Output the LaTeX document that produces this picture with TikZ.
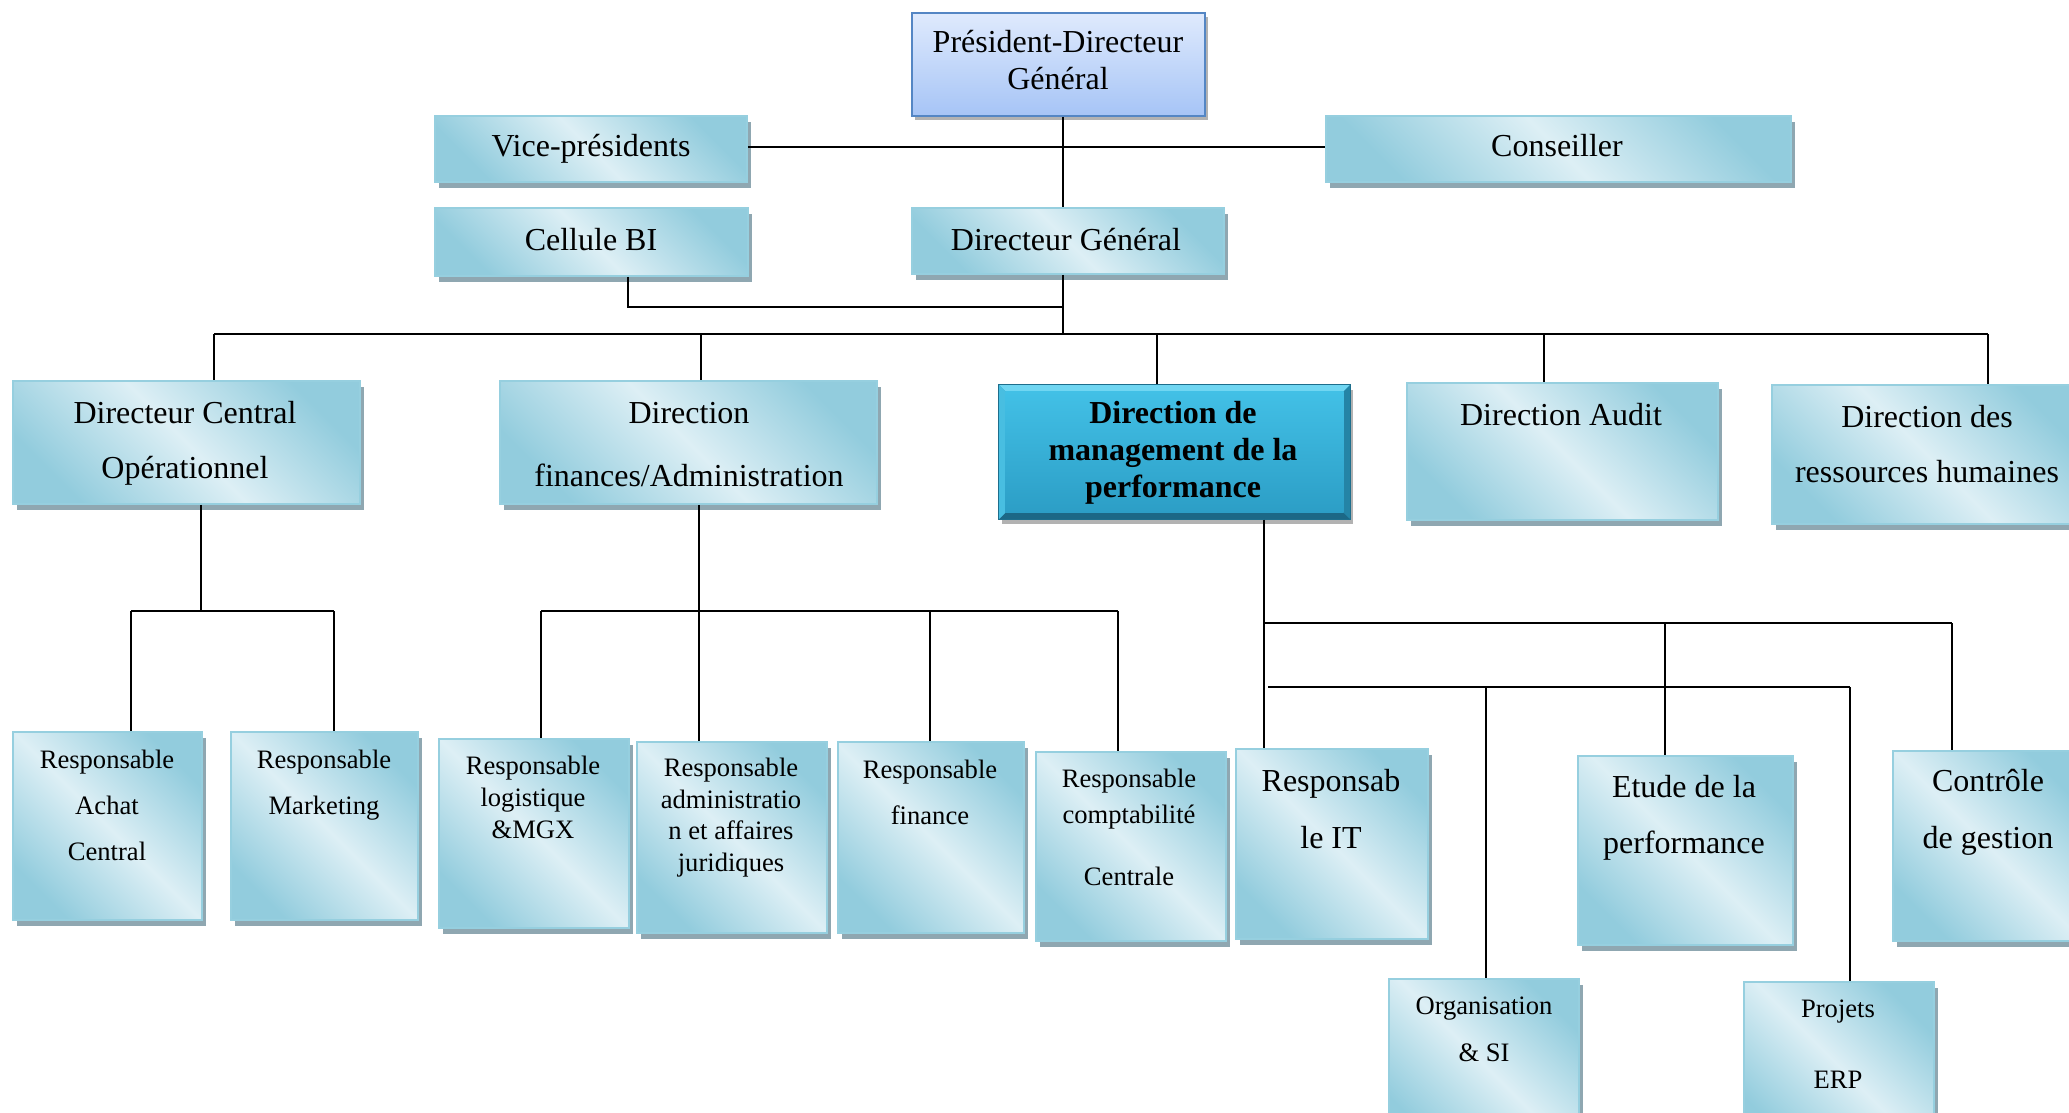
\documentclass[tikz,border=0pt]{standalone}
\usepackage{fontspec}
\setmainfont{Liberation Serif}
\usetikzlibrary{fit,shadows,calc}

\definecolor{tealdark}{RGB}{146,204,221}
\definecolor{teallight}{RGB}{221,239,245}
\definecolor{tealedge}{RGB}{150,207,223}
\definecolor{shadowc}{RGB}{143,167,177}
\definecolor{pdgtop}{RGB}{223,234,253}
\definecolor{pdgbot}{RGB}{166,196,246}
\definecolor{pdgedge}{RGB}{84,134,196}
\definecolor{dmptop}{RGB}{66,192,230}
\definecolor{dmpbot}{RGB}{44,158,198}
\definecolor{dmpedge}{RGB}{30,110,140}
\definecolor{bevtop}{RGB}{112,214,242}
\definecolor{bevleft}{RGB}{72,190,225}
\definecolor{bevright}{RGB}{36,132,166}
\definecolor{bevbot}{RGB}{28,104,134}

\tikzset{
  % light band from top left to bottom right, darker top-right and bottom-left corners
  box/.style={rectangle, inner sep=0pt, draw=tealedge, line width=0.8pt,
    top color=tealdark, bottom color=tealdark, middle color=teallight,
    shading angle=-45,
    drop shadow={shadow xshift=2pt, shadow yshift=-3pt, fill=shadowc, opacity=1}},
  pdgbox/.style={rectangle, inner sep=0pt, draw=pdgedge, line width=1pt,
    top color=pdgtop, bottom color=pdgbot,
    drop shadow={shadow xshift=1.5pt, shadow yshift=-2pt, fill=black, opacity=0.3}},
  dmpbox/.style={rectangle, inner sep=0pt, draw=dmpedge, line width=0.6pt,
    fill=dmpbot,
    drop shadow={shadow xshift=1.5pt, shadow yshift=-2.5pt, fill=black, opacity=0.3}},
  % labels are anchored at the baseline of their last line
  lbl/.style={align=center, inner sep=0pt, anchor=base, font=\fontsize{16}{18.5}\selectfont},
  sml/.style={align=center, inner sep=0pt, anchor=base, font=\fontsize{13.3}{23}\selectfont},
  conn/.style={draw=black, line width=1pt},
}

\begin{document}
\begin{tikzpicture}[x=0.5pt, y=-0.5pt]
\useasboundingbox (0,0) rectangle (2069,1113);
\fill[white] (0,0) rectangle (2069,1113);
\clip (0,0) rectangle (2069,1113);

% ---------- boxes ----------
\node[pdgbox, fit={(912,13) (1205,116)}] (pdg) {};
\node[box, fit={(435,116) (747,182)}] (vp) {};
\node[box, fit={(1326,116) (1791,182)}] (cons) {};
\node[box, fit={(435,208) (748,276)}] (bi) {};
\node[box, fit={(912,208) (1224,274)}] (dg) {};

\node[box, fit={(13,381) (360,504)}] (dco) {};
\node[box, fit={(500,381) (877,504)}] (df) {};
\node[dmpbox, fit={(999,385) (1350,519)}] (dmp) {};
\node[box, fit={(1407,383) (1718,520)}] (audit) {};
\node[box, fit={(1772,385) (2082,524)}] (drh) {};

\node[box, fit={(13,732) (202,920)}] (achat) {};
\node[box, fit={(231,732) (418,920)}] (mkt) {};
\node[box, fit={(439,739) (629,928)}] (logi) {};
\node[box, fit={(637,742) (827,933)}] (admin) {};
\node[box, fit={(838,742) (1024,933)}] (fin) {};
\node[box, fit={(1036,752) (1226,941)}] (compta) {};
\node[box, fit={(1236,749) (1428,939)}] (it) {};
\node[box, fit={(1578,756) (1793,945)}] (etude) {};
\node[box, fit={(1893,751) (2083,941)}] (ctrl) {};
\node[box, fit={(1389,979) (1579,1150)}] (org) {};
\node[box, fit={(1744,982) (1934,1150)}] (proj) {};

% bevelled edges of the performance box
\fill[bevtop] (dmp.north west) -- (dmp.north east) -- ($(dmp.north east)+(-7,7)$) -- ($(dmp.north west)+(7,7)$) -- cycle;
\fill[bevbot] (dmp.south west) -- (dmp.south east) -- ($(dmp.south east)+(-7,-7)$) -- ($(dmp.south west)+(7,-7)$) -- cycle;
\fill[bevleft] (dmp.north west) -- ($(dmp.north west)+(7,7)$) -- ($(dmp.south west)+(7,-7)$) -- (dmp.south west) -- cycle;
\fill[bevright] (dmp.north east) -- ($(dmp.north east)+(-7,7)$) -- ($(dmp.south east)+(-7,-7)$) -- (dmp.south east) -- cycle;
\shade[top color=dmptop, bottom color=dmpbot] ($(dmp.north west)+(7,7)$) rectangle ($(dmp.south east)+(-7,-7)$);
\draw[dmpedge, line width=0.6pt] (dmp.north west) rectangle (dmp.south east);

% ---------- labels ----------
\node[lbl] (pdg-t) at (1058,90) {Président-Directeur\\Général};
\node[lbl] (vp-t) at (591,156) {Vice-présidents};
\node[lbl] (cons-t) at (1557,156) {Conseiller};
\node[lbl] (bi-t) at (591,250) {Cellule BI};
\node[lbl] (dg-t) at (1066,250) {Directeur Général};

\node[lbl, font=\fontsize{16}{27.5}\selectfont] (dco-t) at (185,478) {Directeur Central\\Opérationnel};
\node[lbl, font=\fontsize{16}{31.5}\selectfont] (df-t) at (689,486) {Direction\\finances/Administration};
\node[lbl, font=\bfseries\fontsize{16}{18.5}\selectfont] (dmp-t) at (1173,497) {Direction de\\management de la\\performance};
\node[lbl] (audit-t) at (1561,425) {Direction Audit};
\node[lbl, font=\fontsize{16}{27.5}\selectfont] (drh-t) at (1927,482) {Direction des\\ressources humaines};

\node[sml] (achat-t) at (107,860) {Responsable\\Achat\\Central};
\node[sml] (mkt-t) at (324,814) {Responsable\\Marketing};
\node[sml, font=\fontsize{13.3}{16}\selectfont] (logi-t) at (533,838) {Responsable\\logistique\\\&MGX};
\node[sml, font=\fontsize{13.3}{15.7}\selectfont] (admin-t) at (731,871) {Responsable\\administratio\\n et affaires\\juridiques};
\node[sml] (fin-t) at (930,824) {Responsable\\finance};
\node[sml, font=\fontsize{13.3}{18}\selectfont] (compta-t) at (1129,885) {Responsable\\comptabilité\\[13pt]Centrale};
\node[lbl, font=\fontsize{16}{28.5}\selectfont] (it-t) at (1331,848) {Responsab\\le IT};
\node[lbl, font=\fontsize{16}{28}\selectfont] (etude-t) at (1684,853) {Etude de la\\performance};
\node[lbl, font=\fontsize{16}{28.5}\selectfont] (ctrl-t) at (1988,848) {Contrôle\\de gestion};
\node[sml, font=\fontsize{13.3}{23.5}\selectfont] (org-t) at (1484,1061) {Organisation\\\& SI};
\node[sml, font=\fontsize{13.3}{23.5}\selectfont] (proj-t) at (1838,1088) {Projets\\[12pt]ERP};

% ---------- connectors ----------
\coordinate (trunk) at (1063,147);
\coordinate (bus) at (1063,334);
\draw[conn] (trunk |- pdg.south) -- (trunk |- dg.north);
\draw[conn] (vp.east |- trunk) -- (cons.west |- trunk);
\draw[conn] (trunk |- dg.south) -- (bus);
\coordinate (bij) at (628,307);
\draw[conn] (bij |- bi.south) -- (bij) -- (bus |- bij);

\coordinate (b1) at (214,334);
\coordinate (b2) at (701,334);
\coordinate (b3) at (1157,334);
\coordinate (b4) at (1544,334);
\coordinate (b5) at (1988,334);
\draw[conn] (b1) -- (b5);
\draw[conn] (b1) -- (b1 |- dco.north);
\draw[conn] (b2) -- (b2 |- df.north);
\draw[conn] (b3) -- (b3 |- dmp.north);
\draw[conn] (b4) -- (b4 |- audit.north);
\draw[conn] (b5) -- (b5 |- drh.north);

% operations branch
\coordinate (j1) at (201,611);
\coordinate (j1a) at (131,611);
\coordinate (j1b) at (334,611);
\draw[conn] (j1 |- dco.south) -- (j1);
\draw[conn] (j1a) -- (j1b);
\draw[conn] (j1a) -- (j1a |- achat.north);
\draw[conn] (j1b) -- (j1b |- mkt.north);

% finance branch
\coordinate (j2) at (699,611);
\coordinate (j2a) at (541,611);
\coordinate (j2c) at (930,611);
\coordinate (j2d) at (1118,611);
\draw[conn] (j2 |- df.south) -- (j2 |- admin.north);
\draw[conn] (j2a) -- (j2d);
\draw[conn] (j2a) -- (j2a |- logi.north);
\draw[conn] (j2c) -- (j2c |- fin.north);
\draw[conn] (j2d) -- (j2d |- compta.north);

% performance branch
\coordinate (j3) at (1264,623);
\coordinate (j3a) at (1665,623);
\coordinate (j3b) at (1952,623);
\draw[conn] (j3 |- dmp.south) -- (j3 |- it.north);
\draw[conn] (j3) -- (j3b);
\draw[conn] (j3a) -- (j3a |- etude.north);
\draw[conn] (j3b) -- (j3b |- ctrl.north);
\coordinate (j4) at (1268,687);
\coordinate (j4a) at (1486,687);
\coordinate (j4b) at (1850,687);
\draw[conn] (j4) -- (j4b);
\draw[conn] (j4a) -- (j4a |- org.north);
\draw[conn] (j4b) -- (j4b |- proj.north);
\end{tikzpicture}
\end{document}
